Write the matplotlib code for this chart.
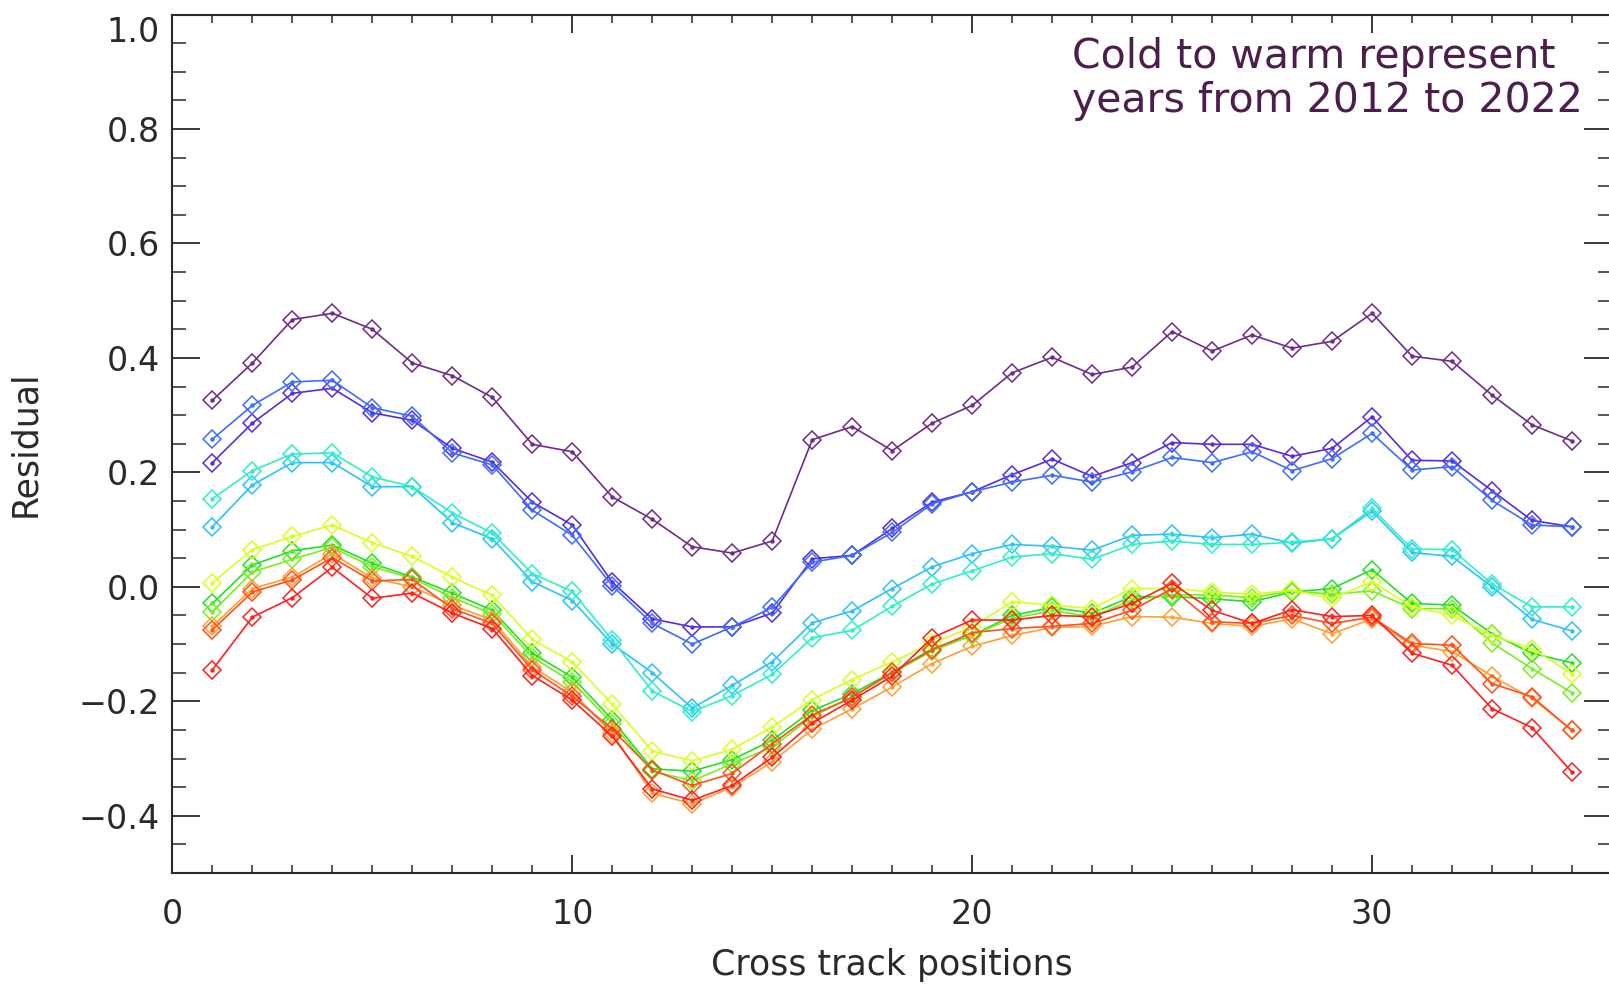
import matplotlib
matplotlib.use("Agg")
import matplotlib.pyplot as plt
from matplotlib.ticker import MultipleLocator, FuncFormatter
from matplotlib.transforms import offset_copy

positions = list(range(1, 36))
years = [2012, 2013, 2014, 2015, 2016, 2017, 2018, 2019, 2020, 2021, 2022]
colors = ['#6E2D8C', '#5A2CE0', '#3C6EFF', '#2EC0FF', '#2EF0C8', '#22E022',
          '#78F020', '#D8FF20', '#FFA030', '#FF5020', '#FF2020']

r2012 = [0.326, 0.391, 0.467, 0.478, 0.450, 0.391, 0.369, 0.331, 0.249, 0.236,
         0.157, 0.118, 0.070, 0.059, 0.080, 0.257, 0.280, 0.238, 0.286, 0.317,
         0.374, 0.401, 0.371, 0.384, 0.446, 0.412, 0.440, 0.417, 0.429, 0.478,
         0.403, 0.394, 0.335, 0.283, 0.255]
r2013 = [0.217, 0.286, 0.338, 0.347, 0.304, 0.291, 0.242, 0.218, 0.148, 0.108,
         0.008, -0.056, -0.070, -0.070, -0.046, 0.049, 0.055, 0.102, 0.148, 0.166,
         0.196, 0.223, 0.193, 0.217, 0.252, 0.249, 0.249, 0.228, 0.242, 0.297,
         0.221, 0.220, 0.168, 0.116, 0.105]
r2014 = [0.258, 0.317, 0.358, 0.361, 0.313, 0.298, 0.234, 0.213, 0.134, 0.090,
         0.002, -0.064, -0.100, -0.070, -0.036, 0.043, 0.055, 0.095, 0.145, 0.166,
         0.183, 0.195, 0.183, 0.201, 0.226, 0.217, 0.236, 0.203, 0.224, 0.268,
         0.204, 0.210, 0.151, 0.108, 0.105]
r2015 = [0.105, 0.178, 0.217, 0.217, 0.175, 0.175, 0.112, 0.084, 0.009, -0.024,
         -0.100, -0.150, -0.212, -0.172, -0.131, -0.063, -0.042, -0.003, 0.035, 0.058,
         0.074, 0.071, 0.064, 0.090, 0.092, 0.086, 0.092, 0.076, 0.084, 0.132,
         0.060, 0.053, 0.000, -0.057, -0.077]
r2016 = [0.154, 0.203, 0.232, 0.234, 0.192, 0.175, 0.129, 0.094, 0.023, -0.008,
         -0.093, -0.182, -0.218, -0.190, -0.153, -0.089, -0.076, -0.034, 0.005, 0.028,
         0.052, 0.058, 0.048, 0.074, 0.080, 0.074, 0.074, 0.078, 0.084, 0.137,
         0.066, 0.065, 0.005, -0.035, -0.035]
r2017 = [-0.029, 0.038, 0.063, 0.073, 0.041, 0.017, -0.011, -0.041, -0.116, -0.158,
         -0.232, -0.318, -0.322, -0.302, -0.268, -0.216, -0.187, -0.149, -0.108, -0.085,
         -0.050, -0.036, -0.046, -0.017, -0.017, -0.021, -0.026, -0.009, -0.003, 0.030,
         -0.029, -0.032, -0.082, -0.116, -0.133]
r2018 = [-0.044, 0.026, 0.048, 0.069, 0.035, 0.015, -0.019, -0.047, -0.123, -0.166,
         -0.239, -0.322, -0.339, -0.309, -0.280, -0.227, -0.193, -0.151, -0.112, -0.085,
         -0.055, -0.042, -0.052, -0.023, -0.014, -0.014, -0.019, -0.007, -0.013, -0.007,
         -0.038, -0.038, -0.098, -0.143, -0.185]
r2019 = [0.007, 0.065, 0.088, 0.108, 0.077, 0.053, 0.017, -0.015, -0.092, -0.131,
         -0.205, -0.287, -0.304, -0.284, -0.245, -0.197, -0.162, -0.131, -0.099, -0.070,
         -0.026, -0.032, -0.038, -0.003, -0.003, -0.009, -0.013, -0.006, -0.020, 0.009,
         -0.035, -0.050, -0.085, -0.108, -0.152]
r2020 = [-0.069, -0.003, 0.017, 0.058, 0.015, 0.000, -0.032, -0.058, -0.140, -0.184,
         -0.256, -0.361, -0.379, -0.350, -0.306, -0.249, -0.213, -0.175, -0.134, -0.104,
         -0.085, -0.071, -0.069, -0.052, -0.053, -0.064, -0.069, -0.056, -0.082, -0.056,
         -0.102, -0.113, -0.156, -0.195, -0.251]
r2021 = [-0.075, -0.009, 0.012, 0.051, 0.010, 0.013, -0.038, -0.064, -0.145, -0.191,
         -0.249, -0.320, -0.347, -0.326, -0.274, -0.224, -0.193, -0.149, -0.110, -0.080,
         -0.073, -0.069, -0.064, -0.041, -0.003, -0.061, -0.064, -0.050, -0.064, -0.053,
         -0.099, -0.102, -0.169, -0.192, -0.251]
r2022 = [-0.145, -0.053, -0.019, 0.034, -0.020, -0.011, -0.046, -0.073, -0.155, -0.198,
         -0.261, -0.353, -0.373, -0.347, -0.298, -0.238, -0.198, -0.156, -0.089, -0.058,
         -0.058, -0.050, -0.052, -0.029, 0.006, -0.041, -0.064, -0.040, -0.052, -0.050,
         -0.116, -0.137, -0.213, -0.246, -0.324]

series = [r2012, r2013, r2014, r2015, r2016, r2017, r2018, r2019, r2020, r2021, r2022]
top_label = 1.0

plt.rcParams['font.family'] = ['DejaVu Sans']

fig = plt.figure(figsize=(16.09, 9.85), dpi=100)
W, H = 1609, 985
left, right = 172.4 / W, 1612 / W
bottom, top = (H - 873) / H, (H - 14.5) / H
ax = fig.add_axes([left, bottom, right - left, top - bottom])

for vals, c in zip(series, colors):
    ax.plot(positions, vals, color=c, lw=1.2, marker='D', ms=9,
            markerfacecolor='none', markeredgecolor=c, markeredgewidth=1.1)
    ax.plot(positions, vals, ls='none', marker='o', ms=2.2, color=c)

txtc = '#2a2a2a'


def yfmt(v, pos):
    s = '%.1f' % abs(v)
    return ('\u2212' + s) if v < -1e-9 else s


ax.set_xlim(0, 36)
ax.set_ylim(-0.5, 1.0)
ax.xaxis.set_major_locator(MultipleLocator(10))
ax.xaxis.set_minor_locator(MultipleLocator(1))
ax.yaxis.set_major_locator(MultipleLocator(0.2))
ax.yaxis.set_minor_locator(MultipleLocator(0.05))
ax.yaxis.set_major_formatter(FuncFormatter(lambda v, p: '' if v > 0.95 else yfmt(v, p)))
ax.xaxis.set_major_formatter(FuncFormatter(lambda v, p: '%d' % v))

ax.tick_params(axis='x', which='major', direction='in', length=13, width=1.3,
               top=True, labelsize=24, pad=18, colors=txtc)
ax.tick_params(axis='x', which='minor', direction='in', length=6, width=1.1, top=True,
               colors=txtc)
ax.tick_params(axis='y', which='major', direction='in', length=20, width=1.3,
               right=True, labelsize=24, pad=9, colors=txtc)
ax.tick_params(axis='y', which='minor', direction='in', length=10, width=1.1, right=True,
               colors=txtc)
for s in ax.spines.values():
    s.set_linewidth(1.5)
    s.set_color(txtc)

trans = offset_copy(ax.get_yaxis_transform(), fig=fig, x=-9, y=-13, units='points')
ax.text(0, top_label, yfmt(top_label, 0), transform=trans, ha='right', va='center',
        fontsize=24, color=txtc)

ax.set_xlabel('Cross track positions', fontsize=25, color=txtc, labelpad=12)
ax.set_ylabel('Residual', fontsize=25, color=txtc, labelpad=26)

ax.text(1072 / W, 1 - 57 / H, 'Cold to warm represent', transform=fig.transFigure,
        fontsize=29.5, color='#4B1E4B', va='center', ha='left')
ax.text(1072 / W, 1 - 101 / H, 'years from 2012 to 2022', transform=fig.transFigure,
        fontsize=29.5, color='#4B1E4B', va='center', ha='left')

fig.savefig('out.png', dpi=100)
